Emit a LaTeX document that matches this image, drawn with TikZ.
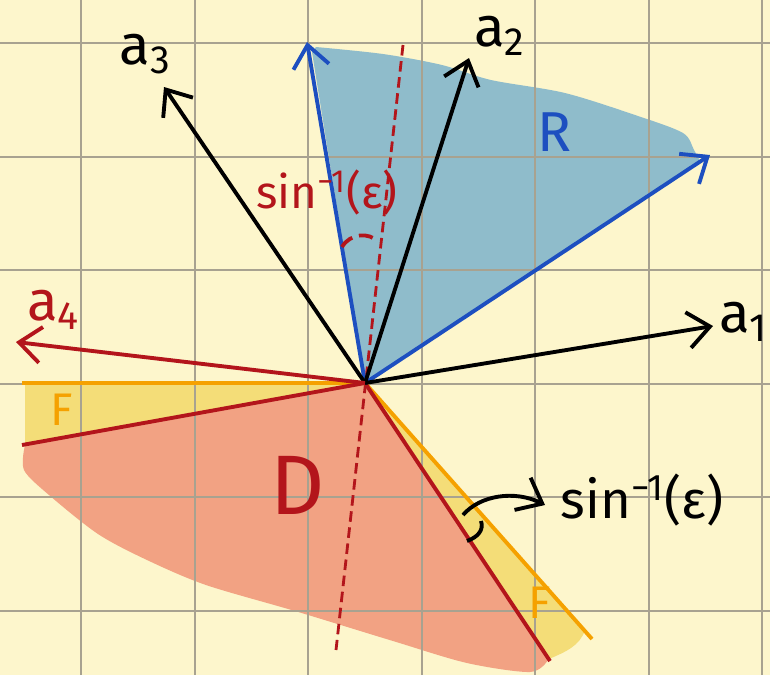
\documentclass[tikz,border=0pt]{standalone}
\usepackage{fontspec}
\setmainfont{Fira Sans}
\usepackage{tikz}
\usetikzlibrary{arrows.meta}
\definecolor{paper}{HTML}{FDF6CC}
\definecolor{gridc}{HTML}{A8A290}
\definecolor{Rfill}{HTML}{8FBCCB}
\definecolor{Dfill}{HTML}{F2A283}
\definecolor{Ffill}{HTML}{F4DD78}
\definecolor{blueline}{HTML}{1D4FC0}
\definecolor{redline}{HTML}{B3151B}
\definecolor{orangeline}{HTML}{F5A100}

\begin{document}
\begin{tikzpicture}[x=0.01cm, y=-0.01cm,
    vec/.style = {line width=1.1pt, -{Straight Barb[length=2.2mm,width=3.6mm]}},
    ray/.style = {line width=1.1pt},
    lbl/.style = {inner sep=0pt, font=\fontsize{16}{18}\selectfont}]
        \useasboundingbox (0,0) rectangle (770,675);
        \fill[paper] (0,0) rectangle (770,675);
        % points
        \coordinate (O) at (365,383);
        \coordinate (a1) at (713,326);
        \coordinate (a2) at (469,58);
        \coordinate (a3) at (164,87);
        \coordinate (a4) at (16,342);
        \coordinate (Rtop) at (307,42);
        \coordinate (Rright) at (710,155);
        \coordinate (dtop) at (403,45);
        \coordinate (dbot) at (336,650);
        \coordinate (Fl) at (22,383);
        \coordinate (Fr) at (592,639);
        \coordinate (Dl) at (22,445);
        \coordinate (Dr) at (550,661);
        % regions
        \fill[Rfill] (O) -- (312,52) -- plot[smooth] coordinates {(316,47) (383,54) (442,65) (491,80) (565,93) (638,116) (683,133) (694,150) (700,161)} -- cycle;
        \fill[Dfill] (O) -- plot[smooth] coordinates {(25,445) (24,470) (49,495) (98,534) (147,560) (206,585) (295,611) (393,641) (467,663) (530,672) (548,660)} -- cycle;
        \fill[Ffill] (O) -- (25,383) -- (25,445) -- cycle;
        \fill[Ffill] (O) -- (585,630) .. controls (580,646) and (565,652) .. (549,659) -- cycle;
        % grid
        \foreach \x in {81,195,308,422,535,649,762}
            \draw[gridc, line width=0.5pt] (\x,0) -- (\x,675);
        \foreach \y in {43,157,270,384,497,611}
            \draw[gridc, line width=0.5pt] (0,\y) -- (770,\y);
        % lines
        \draw[redline, line width=0.8pt, dash pattern=on 3pt off 1.6pt] (dtop) -- (dbot);
        \draw[ray, orangeline] (Fl) -- (O);
        \draw[ray, orangeline] (O) -- (Fr);
        \draw[ray, redline] (O) -- (Dl);
        \draw[ray, redline] (O) -- (Dr);
        \draw[vec, blueline] (O) -- (Rtop);
        \draw[vec, blueline] (O) -- (Rright);
        \draw[vec] (O) -- (a1);
        \draw[vec] (O) -- (a2);
        \draw[vec] (O) -- (a3);
        \draw[vec, redline] (O) -- (a4);
        % angle marks
        \draw[redline, line width=1.1pt, dash pattern=on 4pt off 2pt] (342,247) .. controls (350,233) and (370,232) .. (378,242);
        \draw[line width=1.1pt] (467,541) .. controls (478,537) and (484,530) .. (481,521);
        \coordinate (bend) at (463,515);
        \coordinate (tip) at (545,505);
        \draw[vec] (bend) .. controls (480,495) and (515,490) .. (tip);
        % labels
        \node[lbl] (la1) at (744,322) {a\textsubscript{1}};
        \node[lbl] (la2) at (500,36) {a\textsubscript{2}};
        \node[lbl] (la3) at (146,54) {a\textsubscript{3}};
        \node[lbl, redline] (la4) at (54,310) {a\textsubscript{4}};
        \node[lbl, blueline] (R) at (555,132) {R};
        \node[lbl, redline, font=\fontsize{24}{26}\selectfont] (D) at (298,485) {D};
        \node[lbl, orangeline, font=\fontsize{13}{15}\selectfont] (F1) at (62,410) {F};
        \node[lbl, orangeline, font=\fontsize{13}{15}\selectfont] (F2) at (540,603) {F};
        \node[lbl, anchor=west, font=\fontsize{15}{17}\selectfont] (ang1) at (560,500) {sin\textsuperscript{−1}(ε)};
        \node[lbl, redline, font=\fontsize{13}{15}\selectfont] (ang2) at (327,192) {sin\textsuperscript{−1}(ε)};
      \end{tikzpicture}
\end{document}
